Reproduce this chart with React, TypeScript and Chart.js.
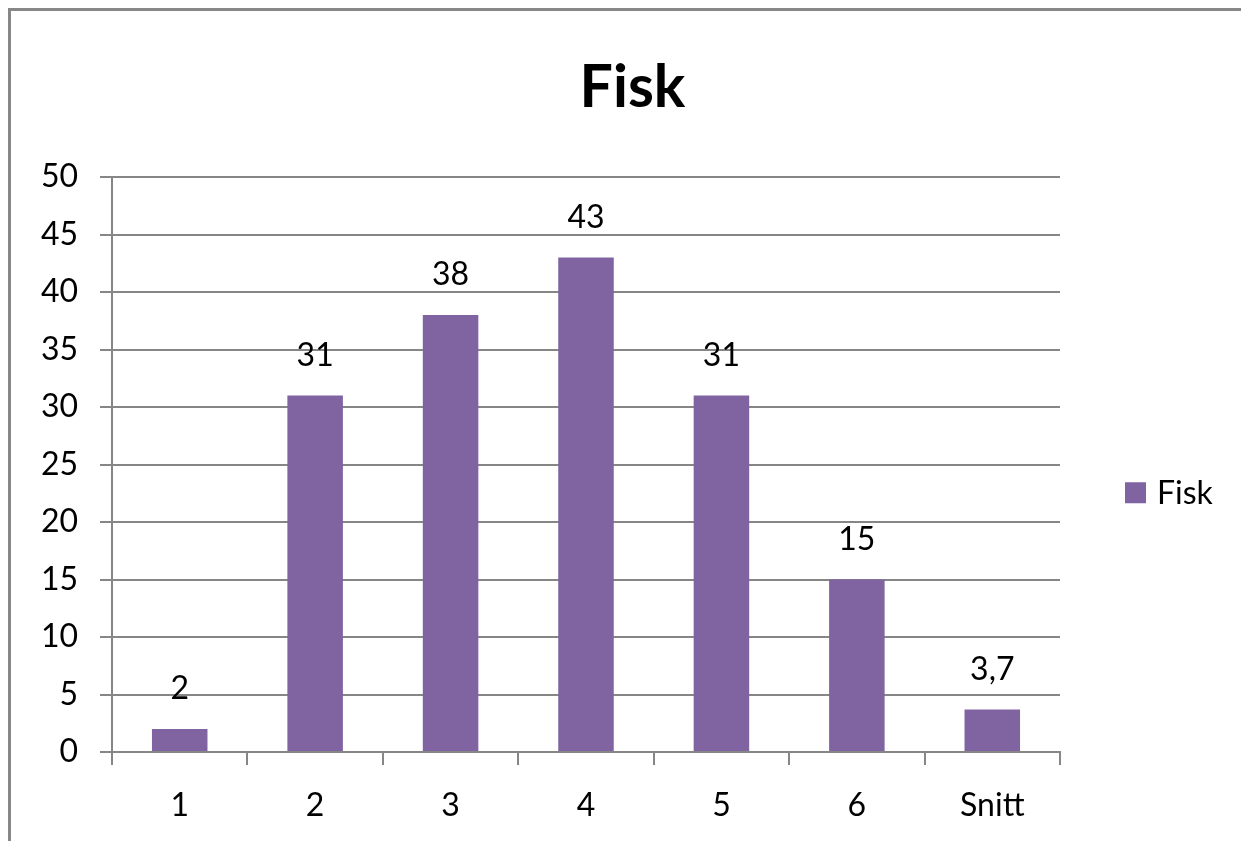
import React, { useEffect, useRef } from "react";
import { Chart, registerables } from "chart.js";

Chart.register(...registerables);

const categories: string[] = ["1", "2", "3", "4", "5", "6", "Snitt"];
const values: number[] = [2, 31, 38, 43, 31, 15, 3.7];
const seriesName = "Fisk";
const titleText = "Fisk";
const yMin = 0;
const yMax = 50;
const yStep = 5;

const BAR = "#8064A2";
const GRID = "#868686";
const FONT = "Lato, 'Open Sans', 'DejaVu Sans', sans-serif";

const fmt = (v: number) => String(v).replace(".", ",");

const dataLabelPlugin = {
  id: "dataLabels",
  afterDatasetsDraw(chart: any) {
    const ctx = chart.ctx;
    const meta = chart.getDatasetMeta(0);
    ctx.save();
    ctx.font = `32px ${FONT}`;
    ctx.fillStyle = "#000";
    ctx.textAlign = "center";
    ctx.textBaseline = "middle";
    meta.data.forEach((el: any, i: number) => {
      ctx.fillText(fmt(chart.data.datasets[0].data[i]), el.x, el.y - 40);
    });
    ctx.restore();
  },
};

const titlePlugin = {
  id: "chartTitle",
  afterDraw(chart: any) {
    const ctx = chart.ctx;
    ctx.save();
    ctx.font = `bold 59px ${FONT}`;
    ctx.fillStyle = "#000";
    ctx.textAlign = "center";
    ctx.textBaseline = "middle";
    ctx.fillText(titleText, chart.width / 2 + 8, 80);
    ctx.restore();
  },
};

const legendPlugin = {
  id: "customLegend",
  afterDraw(chart: any) {
    const ctx = chart.ctx;
    const a = chart.chartArea;
    const x = a.right + 65;
    const y = a.top + (a.bottom - a.top) * 0.55;
    ctx.save();
    ctx.fillStyle = BAR;
    ctx.fillRect(x, y - 11, 21, 21);
    ctx.font = `32px ${FONT}`;
    ctx.fillStyle = "#000";
    ctx.textAlign = "left";
    ctx.textBaseline = "middle";
    ctx.fillText(chart.data.datasets[0].label, x + 32, y);
    ctx.restore();
  },
};

export default function App() {
  const ref = useRef<HTMLCanvasElement | null>(null);
  useEffect(() => {
    if (!ref.current) return;
    const chart = new Chart(ref.current, {
      type: "bar",
      data: {
        labels: categories,
        datasets: [
          {
            label: seriesName,
            data: values,
            backgroundColor: BAR,
            borderWidth: 0,
            barPercentage: 0.41,
            categoryPercentage: 1,
          },
        ],
      },
      options: {
        animation: false,
        responsive: true,
        maintainAspectRatio: false,
        layout: { padding: { left: 0, right: 181, top: 169, bottom: 0 } },
        plugins: {
          legend: { display: false },
          tooltip: { enabled: false },
          title: { display: false },
        },
        scales: {
          x: {
            offset: true,
            grid: {
              display: true,
              drawOnChartArea: false,
              drawTicks: true,
              tickLength: 13,
              offset: true,
              color: GRID,
              lineWidth: 2,
            },
            border: { display: true, color: GRID, width: 2 },
            ticks: {
              color: "#000",
              font: { family: FONT, size: 32 },
              padding: 21,
              maxRotation: 0,
            },
            afterFit: (s: any) => {
              s.height = 89;
            },
          },
          y: {
            min: yMin,
            max: yMax,
            grid: {
              color: GRID,
              lineWidth: 2,
              tickLength: 12,
            },
            border: { display: true, color: GRID, width: 2 },
            ticks: {
              stepSize: yStep,
              color: "#000",
              font: { family: FONT, size: 32 },
              padding: 22,
            },
            afterFit: (s: any) => {
              s.width = 104;
            },
          },
        },
      },
      plugins: [dataLabelPlugin, titlePlugin, legendPlugin],
    });
    return () => chart.destroy();
  }, []);

  return (
    <div style={{ position: "relative", width: 1233, height: 833, background: "#fff" }}>
      <canvas ref={ref} />
      <div
        style={{
          position: "absolute",
          left: 0,
          top: 0,
          width: 1233,
          height: 833,
          boxSizing: "border-box",
          borderTop: "3px solid #878787",
          borderLeft: "3px solid #878787",
          pointerEvents: "none",
        }}
      />
    </div>
  );
}
